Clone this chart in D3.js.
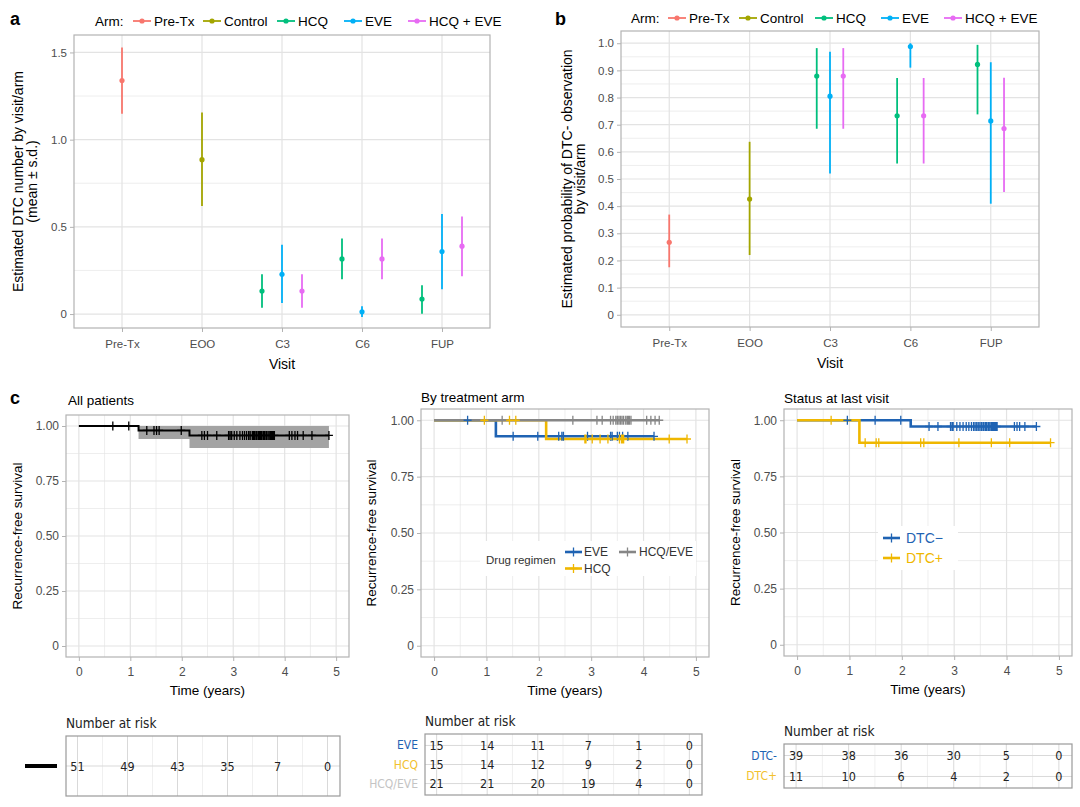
<!DOCTYPE html>
<html>
<head>
<meta charset="utf-8">
<script src="https://cdn.jsdelivr.net/npm/d3@7"></script>
<style>
  body { margin: 0; background: #fff; }
  svg { font-family: "Liberation Sans", Arial, sans-serif; }
  .narrow { font-family: "Liberation Sans Narrow", "DejaVu Sans", sans-serif; font-stretch: condensed; }
</style>
</head>
<body>
<svg id="fig" width="1080" height="807"></svg>
<script>
////////////////////////////////////////////////////////////////////
////////////////////////////  Data  ////////////////////////////////
const visits = ["Pre-Tx", "EOO", "C3", "C6", "FUP"];
const arms = ["Pre-Tx", "Control", "HCQ", "EVE", "HCQ + EVE"];

// [visit, arm, mean, low, high]
const dtcNumber = [
  ["Pre-Tx", "Pre-Tx", 1.339, 1.149, 1.529],
  ["EOO", "Control", 0.885, 0.62, 1.155],
  ["C3", "HCQ", 0.132, 0.036, 0.228],
  ["C3", "EVE", 0.228, 0.063, 0.397],
  ["C3", "HCQ + EVE", 0.132, 0.036, 0.228],
  ["C6", "HCQ", 0.316, 0.2, 0.433],
  ["C6", "EVE", 0.013, -0.017, 0.044],
  ["C6", "HCQ + EVE", 0.316, 0.2, 0.433],
  ["FUP", "HCQ", 0.086, 0.002, 0.165],
  ["FUP", "EVE", 0.358, 0.142, 0.573],
  ["FUP", "HCQ + EVE", 0.389, 0.217, 0.56],
];

// [visit, arm, probability, low, high]
const dtcNegProb = [
  ["Pre-Tx", "Pre-Tx", 0.267, 0.175, 0.369],
  ["EOO", "Control", 0.426, 0.22, 0.637],
  ["C3", "HCQ", 0.879, 0.685, 0.982],
  ["C3", "EVE", 0.805, 0.52, 0.969],
  ["C3", "HCQ + EVE", 0.879, 0.685, 0.982],
  ["C6", "HCQ", 0.733, 0.557, 0.872],
  ["C6", "EVE", 0.988, 0.91, 1.0],
  ["C6", "HCQ + EVE", 0.733, 0.557, 0.872],
  ["FUP", "HCQ", 0.922, 0.738, 0.994],
  ["FUP", "EVE", 0.714, 0.409, 0.93],
  ["FUP", "HCQ + EVE", 0.686, 0.452, 0.873],
];

const ticksA = [0, 0.5, 1.0, 1.5];
const minorA = [0.25, 0.75, 1.25];
const ticksB = [0, 0.1, 0.2, 0.3, 0.4, 0.5, 0.6, 0.7, 0.8, 0.9, 1.0];
const minorB = [0.05, 0.15, 0.25, 0.35, 0.45, 0.55, 0.65, 0.75, 0.85, 0.95];

// Kaplan-Meier: steps [time, survival], last follow-up, censor times
const kmAllSteps = [[0, 1], [1.16, 0.98], [2.15, 0.957]];
const kmAllEnd = 4.86;
const kmAllBand = [[1.16, 0.941, 1], [2.15, 0.9, 1]];
const kmAllCensor = [0.66, 0.97, 1.32, 1.46, 1.51, 1.56, 1.99, 2.39, 2.44, 2.5, 2.68, 2.91, 2.94, 2.97,
  3.02, 3.07, 3.13, 3.18, 3.22, 3.26, 3.3, 3.33, 3.37, 3.39, 3.41, 3.44, 3.46, 3.49, 3.51, 3.53, 3.55,
  3.58, 3.6, 3.62, 3.65, 3.68, 3.71, 3.73, 3.75, 3.76, 3.78, 3.8, 4.09, 4.14, 4.2, 4.25, 4.36, 4.53, 4.86];

const kmEveSteps = [[0, 1], [1.18, 0.929]];
const kmEveEnd = 4.2;
const kmEveCensor = [0.64, 1.51, 1.98, 2.38, 2.44, 2.47, 2.93, 3.37, 3.4, 3.5, 3.54, 3.6, 3.7, 4.2];
const kmHcqSteps = [[0, 1], [2.14, 0.917]];
const kmHcqEnd = 4.83;
const kmHcqCensor = [0.96, 1.44, 1.56, 2.88, 2.9, 3.02, 3.17, 3.32, 3.54, 3.58, 3.6, 3.62, 4.49, 4.83];
const kmComboSteps = [[0, 1]];
const kmComboEnd = 4.3;
const kmComboCensor = [1.3, 2.65, 3.11, 3.21, 3.37, 3.42, 3.47, 3.5, 3.53, 3.56, 3.59, 3.62, 3.66, 3.69,
  3.71, 3.73, 3.76, 4.06, 4.14, 4.22, 4.3];

const kmNegSteps = [[0, 1], [2.17, 0.972]];
const kmNegEnd = 4.57;
const kmNegCensor = [0.96, 1.49, 1.98, 2.52, 2.69, 2.93, 2.96, 2.98, 3.05, 3.11, 3.17, 3.23, 3.28, 3.33,
  3.37, 3.4, 3.43, 3.46, 3.49, 3.52, 3.55, 3.57, 3.6, 3.62, 3.65, 3.67, 3.7, 3.72, 3.74, 3.76, 3.78, 3.8,
  3.82, 4.15, 4.2, 4.25, 4.35, 4.57];
const kmPosSteps = [[0, 1], [1.19, 0.9]];
const kmPosEnd = 4.84;
const kmPosCensor = [0.65, 1.3, 1.51, 1.56, 2.36, 2.42, 3.09, 3.71, 4.06, 4.84];

const kmTicksX = [0, 1, 2, 3, 4, 5];
const kmTicksY = [0, 0.25, 0.5, 0.75, 1];

// number at risk
const riskTimes = [0, 1, 2, 3, 4, 5];
const riskAll = [51, 49, 43, 35, 7, 0];
const riskArmLabels = ["EVE", "HCQ", "HCQ/EVE"];
const riskArm = [[15, 14, 11, 7, 1, 0], [15, 14, 12, 9, 2, 0], [21, 21, 20, 19, 4, 0]];
const riskStatusLabels = ["DTC-", "DTC+"];
const riskStatus = [[39, 38, 36, 30, 5, 0], [11, 10, 6, 4, 2, 0]];

////////////////////////////////////////////////////////////////////
////////////////////////////  Style  ///////////////////////////////
const armColors = ["#F8766D", "#A3A500", "#00BF7D", "#00B0F6", "#E76BF3"];
const armColor = d3.scaleOrdinal().domain(arms).range(armColors);
const blue = "#1f63b3";
const yellow = "#efb700";
const gray = "#868686";
const gridCol = "#e3e3e3";
const borderCol = "#b3b3b3";
const tickTextCol = "#4d4d4d";

const svg = d3.select("#fig");

function fmtTick(digits) {
  return (d) => (d === 0 ? "0" : d3.format(`.${digits}f`)(d));
}

function styleAxis(g, size) {
  g.select(".domain").remove();
  g.selectAll(".tick line").attr("stroke", borderCol);
  g.selectAll(".tick text").attr("fill", tickTextCol).style("font-size", size + "px");
}

////////////////////////////////////////////////////////////////////
////////////////////////////  Panels a, b  /////////////////////////
function drawDotPanel(cfg) {
  const g = svg.append("g");
  const x = d3.scalePoint().domain(visits).range([cfg.left, cfg.right]).padding(0.6);
  const y = d3.scaleLinear().domain(cfg.yDomain).range([cfg.bottom, cfg.top]);
  const dodge = d3.scalePoint().domain(["HCQ", "EVE", "HCQ + EVE"])
    .range([-cfg.dodge * x.step(), cfg.dodge * x.step()]);
  const xPos = (d) => x(d[0]) + (d[1] === "Pre-Tx" || d[1] === "Control" ? 0 : dodge(d[1]));

  // grid
  g.selectAll(".minor").data(cfg.minor).join("line")
    .attr("x1", cfg.left).attr("x2", cfg.right)
    .attr("y1", (d) => y(d)).attr("y2", (d) => y(d))
    .attr("stroke", gridCol).attr("stroke-width", 0.6);
  g.selectAll(".major").data(cfg.ticks).join("line")
    .attr("x1", cfg.left).attr("x2", cfg.right)
    .attr("y1", (d) => y(d)).attr("y2", (d) => y(d))
    .attr("stroke", gridCol).attr("stroke-width", 1.2);
  g.selectAll(".vgrid").data(visits).join("line")
    .attr("x1", (d) => x(d)).attr("x2", (d) => x(d))
    .attr("y1", cfg.top).attr("y2", cfg.bottom)
    .attr("stroke", gridCol).attr("stroke-width", 1.2);

  // error bars + points
  g.selectAll(".bar").data(cfg.data).join("line")
    .attr("x1", xPos).attr("x2", xPos)
    .attr("y1", (d) => y(d[3])).attr("y2", (d) => y(d[4]))
    .attr("stroke", (d) => armColor(d[1])).attr("stroke-width", 1.8);
  g.selectAll(".pt").data(cfg.data).join("circle")
    .attr("cx", xPos).attr("cy", (d) => y(d[2])).attr("r", 2.6)
    .attr("fill", (d) => armColor(d[1]));

  // border
  g.append("rect")
    .attr("x", cfg.left).attr("y", cfg.top)
    .attr("width", cfg.right - cfg.left).attr("height", cfg.bottom - cfg.top)
    .attr("fill", "none").attr("stroke", borderCol).attr("stroke-width", 1.2);

  // axes
  g.append("g").attr("transform", `translate(${cfg.left},0)`)
    .call(d3.axisLeft(y).tickValues(cfg.ticks).tickFormat(fmtTick(1)).tickSize(4).tickPadding(3))
    .call((a) => styleAxis(a, 11.5));
  g.append("g").attr("transform", `translate(0,${cfg.bottom})`)
    .call(d3.axisBottom(x).tickSize(4).tickPadding(8))
    .call((a) => styleAxis(a, 11.5));

  g.append("text").attr("x", (cfg.left + cfg.right) / 2).attr("y", cfg.bottom + 41)
    .attr("text-anchor", "middle").style("font-size", "14px").text("Visit");

  const cy = (cfg.top + cfg.bottom) / 2;
  cfg.yLabel.forEach((t, i) => {
    g.append("text")
      .attr("transform", `translate(${cfg.yLabelX[i]},${cy}) rotate(-90)`)
      .attr("text-anchor", "middle").attr("dominant-baseline", "central")
      .style("font-size", "14px").text(t);
  });

  // legend
  const lg = g.append("g").attr("transform", `translate(0,${cfg.legendY})`);
  lg.append("text").attr("x", cfg.legendX0).attr("dominant-baseline", "central")
    .style("font-size", "13.5px").text("Arm:");
  arms.forEach((a, i) => {
    const x0 = cfg.legendX[i];
    lg.append("line").attr("x1", x0).attr("x2", x0 + 18).attr("stroke", armColor(a)).attr("stroke-width", 1.8);
    lg.append("circle").attr("cx", x0 + 9).attr("r", 2.6).attr("fill", armColor(a));
    lg.append("text").attr("x", x0 + 21).attr("dominant-baseline", "central")
      .style("font-size", "13.5px").text(a);
  });

  svg.append("text").attr("x", cfg.tagX).attr("y", 25)
    .style("font-size", "18px").style("font-weight", "bold").text(cfg.tag);
}

drawDotPanel({
  tag: "a", tagX: 10,
  left: 74, right: 490, top: 35, bottom: 328,
  yDomain: [-0.08, 1.6], ticks: ticksA, minor: minorA, dodge: 0.25,
  data: dtcNumber,
  yLabel: ["Estimated DTC number by visit/arm", "(mean ± s.d.)"], yLabelX: [18, 32],
  legendY: 21, legendX0: 95, legendX: [133, 203, 277, 344, 408],
});

drawDotPanel({
  tag: "b", tagX: 555,
  left: 621, right: 1039, top: 31, bottom: 327,
  yDomain: [-0.045, 1.045], ticks: ticksB, minor: minorB, dodge: 0.165,
  data: dtcNegProb,
  yLabel: ["Estimated probability of DTC- observation", "by visit/arm"], yLabelX: [567, 580],
  legendY: 18, legendX0: 631, legendX: [668, 739, 815, 881, 944],
});

////////////////////////////////////////////////////////////////////
////////////////////////////  Panel c: KM  /////////////////////////
function survAt(steps, t) {
  const i = d3.bisector((d) => d[0]).right(steps, t) - 1;
  return steps[Math.max(0, i)][1];
}

function drawKM(cfg) {
  const g = svg.append("g");
  const x = d3.scaleLinear().domain([-0.25, 5.25]).range([cfg.left, cfg.right]);
  const y = d3.scaleLinear().domain([-0.05, 1.05]).range([cfg.bottom, cfg.top]);

  const minorX = d3.range(0.5, 5, 1);
  const minorY = d3.range(0.125, 1, 0.25);
  g.selectAll(".mx").data(minorX).join("line")
    .attr("x1", (d) => x(d)).attr("x2", (d) => x(d)).attr("y1", cfg.top).attr("y2", cfg.bottom)
    .attr("stroke", gridCol).attr("stroke-width", 0.6);
  g.selectAll(".my").data(minorY).join("line")
    .attr("y1", (d) => y(d)).attr("y2", (d) => y(d)).attr("x1", cfg.left).attr("x2", cfg.right)
    .attr("stroke", gridCol).attr("stroke-width", 0.6);
  g.selectAll(".gx").data(kmTicksX).join("line")
    .attr("x1", (d) => x(d)).attr("x2", (d) => x(d)).attr("y1", cfg.top).attr("y2", cfg.bottom)
    .attr("stroke", gridCol).attr("stroke-width", 1.2);
  g.selectAll(".gy").data(kmTicksY).join("line")
    .attr("y1", (d) => y(d)).attr("y2", (d) => y(d)).attr("x1", cfg.left).attr("x2", cfg.right)
    .attr("stroke", gridCol).attr("stroke-width", 1.2);

  if (cfg.band) {
    const last = cfg.band[cfg.band.length - 1];
    const pts = cfg.band.concat([[cfg.bandEnd, last[1], last[2]]]);
    g.append("path").datum(pts)
      .attr("fill", "#a3a3a3")
      .attr("d", d3.area().x((d) => x(d[0])).y0((d) => y(d[1])).y1((d) => y(d[2])).curve(d3.curveStepAfter));
  }

  const line = d3.line().x((d) => x(d[0])).y((d) => y(d[1])).curve(d3.curveStepAfter);
  cfg.curves.forEach((c) => {
    const pts = c.steps.concat([[c.end, c.steps[c.steps.length - 1][1]]]);
    g.append("path").datum(pts)
      .attr("fill", "none").attr("stroke", c.color).attr("stroke-width", cfg.lw)
      .attr("d", line);
  });
  cfg.curves.forEach((c) => {
    g.append("path")
      .attr("fill", "none").attr("stroke", c.color).attr("stroke-width", 1.3)
      .attr("d", c.censor.map((t) => {
        const px = x(t), py = y(survAt(c.steps, t));
        return `M${px - 4},${py}h8M${px},${py - 4.5}v9`;
      }).join(""));
  });

  g.append("rect")
    .attr("x", cfg.left).attr("y", cfg.top)
    .attr("width", cfg.right - cfg.left).attr("height", cfg.bottom - cfg.top)
    .attr("fill", "none").attr("stroke", borderCol).attr("stroke-width", 1.2);

  g.append("g").attr("transform", `translate(${cfg.left},0)`)
    .call(d3.axisLeft(y).tickValues(kmTicksY).tickFormat(fmtTick(2)).tickSize(4).tickPadding(3))
    .call((a) => styleAxis(a, 12));
  g.append("g").attr("transform", `translate(0,${cfg.bottom})`)
    .call(d3.axisBottom(x).tickValues(kmTicksX).tickFormat(d3.format("d")).tickSize(4).tickPadding(6))
    .call((a) => styleAxis(a, 12));

  g.append("text").attr("x", (cfg.left + cfg.right) / 2).attr("y", cfg.bottom + 38)
    .attr("text-anchor", "middle").style("font-size", "13.5px").text("Time (years)");
  g.append("text")
    .attr("transform", `translate(${cfg.yLabelX},${(cfg.top + cfg.bottom) / 2}) rotate(-90)`)
    .attr("text-anchor", "middle").attr("dominant-baseline", "central")
    .style("font-size", "13.5px").text("Recurrence-free survival");
  g.append("text").attr("x", cfg.titleX).attr("y", cfg.titleY)
    .attr("dominant-baseline", "central").style("font-size", "13.5px").text(cfg.title);

  return { g, x, y };
}

svg.append("text").attr("x", 10).attr("y", 404)
  .style("font-size", "18px").style("font-weight", "bold").text("c");

drawKM({
  left: 66, right: 349, top: 415, bottom: 657, lw: 2,
  title: "All patients", titleX: 68, titleY: 400, yLabelX: 17,
  band: kmAllBand, bandEnd: kmAllEnd,
  curves: [{ steps: kmAllSteps, end: kmAllEnd, censor: kmAllCensor, color: "#000" }],
});

const km2 = drawKM({
  left: 421, right: 709, top: 409, bottom: 657, lw: 2.6,
  title: "By treatment arm", titleX: 421, titleY: 397, yLabelX: 371,
  curves: [
    { steps: kmEveSteps, end: kmEveEnd, censor: kmEveCensor, color: blue },
    { steps: kmHcqSteps, end: kmHcqEnd, censor: kmHcqCensor, color: yellow },
    { steps: kmComboSteps, end: kmComboEnd, censor: kmComboCensor, color: gray },
  ],
});

const km3 = drawKM({
  left: 784, right: 1072, top: 409, bottom: 656, lw: 2.6,
  title: "Status at last visit", titleX: 784, titleY: 398, yLabelX: 735,
  curves: [
    { steps: kmNegSteps, end: kmNegEnd, censor: kmNegCensor, color: blue },
    { steps: kmPosSteps, end: kmPosEnd, censor: kmPosCensor, color: yellow },
  ],
});

function legendKey(g, x0, y0, color) {
  g.append("line").attr("x1", x0).attr("x2", x0 + 17).attr("y1", y0).attr("y2", y0)
    .attr("stroke", color).attr("stroke-width", 2.6);
  g.append("path").attr("d", `M${x0 + 4.5},${y0}h8M${x0 + 8.5},${y0 - 4.5}v9`)
    .attr("stroke", color).attr("stroke-width", 1.3);
}

// legend: by treatment arm
{
  const g = km2.g.append("g");
  g.append("rect").attr("x", 480).attr("y", 541).attr("width", 216).attr("height", 35).attr("fill", "#fff");
  g.append("text").attr("x", 486).attr("y", 560).attr("dominant-baseline", "central")
    .style("font-size", "11.5px").attr("fill", "#333").text("Drug regimen");
  legendKey(g, 565, 552, blue);
  g.append("text").attr("x", 584).attr("y", 552).attr("dominant-baseline", "central")
    .style("font-size", "12px").attr("fill", "#333").text("EVE");
  legendKey(g, 565, 568.5, yellow);
  g.append("text").attr("x", 584).attr("y", 568.5).attr("dominant-baseline", "central")
    .style("font-size", "12px").attr("fill", "#333").text("HCQ");
  legendKey(g, 619, 552, gray);
  g.append("text").attr("x", 639).attr("y", 552).attr("dominant-baseline", "central")
    .style("font-size", "12px").attr("fill", "#333").text("HCQ/EVE");
}

// legend: status
{
  const g = km3.g.append("g");
  g.append("rect").attr("x", 878).attr("y", 526).attr("width", 80).attr("height", 44).attr("fill", "#fff");
  legendKey(g, 883, 538, blue);
  g.append("text").attr("x", 906).attr("y", 538).attr("dominant-baseline", "central")
    .style("font-size", "14px").attr("fill", blue).text("DTC−");
  legendKey(g, 883, 558, yellow);
  g.append("text").attr("x", 906).attr("y", 558).attr("dominant-baseline", "central")
    .style("font-size", "14px").attr("fill", yellow).text("DTC+");
}

////////////////////////////////////////////////////////////////////
////////////////////////////  Risk tables  /////////////////////////
function drawRisk(cfg) {
  const g = svg.append("g").attr("class", "narrow");
  const x = d3.scaleLinear().domain([-0.23, 5.25]).range([cfg.left, cfg.right]);
  const y = d3.scalePoint().domain(d3.range(cfg.rows.length)).range([cfg.top, cfg.bottom]).padding(cfg.pad);

  g.selectAll(".mx").data(d3.range(0.5, 5, 1)).join("line")
    .attr("x1", (d) => x(d)).attr("x2", (d) => x(d)).attr("y1", cfg.top).attr("y2", cfg.bottom)
    .attr("stroke", "#ececec").attr("stroke-width", 0.8);
  g.selectAll(".gx").data(riskTimes).join("line")
    .attr("x1", (d) => x(d)).attr("x2", (d) => x(d)).attr("y1", cfg.top).attr("y2", cfg.bottom)
    .attr("stroke", "#d9d9d9").attr("stroke-width", 1);
  g.selectAll(".gy").data(cfg.rows).join("line")
    .attr("x1", cfg.left).attr("x2", cfg.right)
    .attr("y1", (d, i) => y(i)).attr("y2", (d, i) => y(i))
    .attr("stroke", "#d9d9d9").attr("stroke-width", 1);

  cfg.rows.forEach((row, i) => {
    g.selectAll(null).data(row).join("text")
      .attr("x", (d, j) => x(riskTimes[j])).attr("y", y(i))
      .attr("text-anchor", "middle").attr("dominant-baseline", "central")
      .style("font-size", "12.5px").attr("fill", "#222").text((d) => d);
    if (cfg.labels) {
      g.append("text").attr("x", cfg.left - 7).attr("y", y(i))
        .attr("text-anchor", "end").attr("dominant-baseline", "central")
        .style("font-size", "12px").attr("fill", cfg.labelColors[i]).text(cfg.labels[i]);
    }
  });

  g.append("rect").attr("x", cfg.left).attr("y", cfg.top)
    .attr("width", cfg.right - cfg.left).attr("height", cfg.bottom - cfg.top)
    .attr("fill", "none").attr("stroke", "#9a9a9a").attr("stroke-width", 1.2);

  g.append("text").attr("x", cfg.left).attr("y", cfg.top - 8)
    .style("font-size", "13.5px").attr("fill", "#222").text("Number at risk");
  return { g, y };
}

const r1 = drawRisk({ left: 66, right: 340, top: 736, bottom: 796, pad: 0.5, rows: [riskAll] });
r1.g.append("line").attr("x1", 25).attr("x2", 57).attr("y1", r1.y(0)).attr("y2", r1.y(0))
  .attr("stroke", "#000").attr("stroke-width", 4);

drawRisk({
  left: 425, right: 702, top: 734, bottom: 795, pad: 0.6, rows: riskArm,
  labels: riskArmLabels, labelColors: [blue, "#f2c12e", "#c4c4c4"],
});

drawRisk({
  left: 784, right: 1072, top: 744, bottom: 788, pad: 0.55, rows: riskStatus,
  labels: riskStatusLabels, labelColors: [blue, "#f2c12e"],
});
</script>
</body>
</html>
